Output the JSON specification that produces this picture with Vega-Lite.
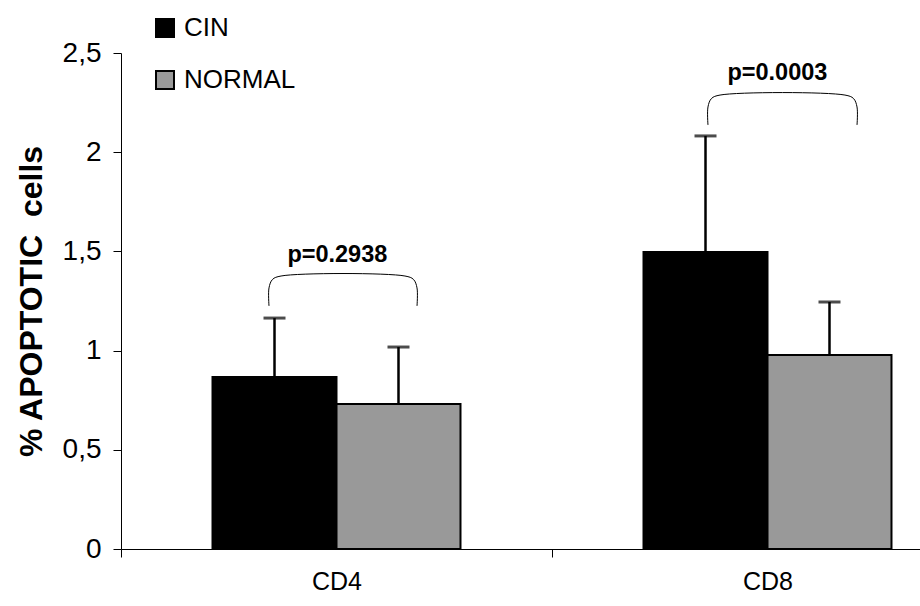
{
  "$schema": "https://vega.github.io/schema/vega-lite/v6.json",
  "autosize": {"type": "none"},
  "padding": {"left": 121, "top": 53, "right": 0, "bottom": 57},
  "width": 799,
  "height": 496,
  "background": "white",
  "config": {
    "font": "Liberation Sans",
    "view": {"stroke": null},
    "axis": {"domainColor": "black", "tickColor": "black", "labelColor": "black", "titleColor": "black", "grid": false, "domainWidth": 1, "tickWidth": 1}
  },
  "layer": [
    {
      "data": {"values": [
        {"cell": "CD4", "group": "CIN", "value": 0.867, "upper": 1.164},
        {"cell": "CD4", "group": "NORMAL", "value": 0.731, "upper": 1.018},
        {"cell": "CD8", "group": "CIN", "value": 1.497, "upper": 2.082},
        {"cell": "CD8", "group": "NORMAL", "value": 0.978, "upper": 1.245}
      ]},
      "encoding": {
        "x": {"field": "cell", "type": "nominal",
          "scale": {"domain": ["CD4", "CD8"], "range": [0, 862], "paddingInner": 0, "paddingOuter": 0},
          "axis": {"title": null, "labelAngle": 0, "labelFontSize": 25, "labelPadding": 12, "tickSize": 8, "tickBand": "extent", "labelBaseline": "top"}},
        "xOffset": {"field": "group", "type": "nominal",
          "scale": {"domain": ["CIN", "NORMAL"], "paddingInner": 0, "paddingOuter": 0.738}}
      },
      "layer": [
        {
          "mark": {"type": "bar", "stroke": "black", "strokeWidth": 2},
          "encoding": {
            "y": {"field": "value", "type": "quantitative",
              "scale": {"domain": [0, 2.5], "nice": false},
              "axis": {"title": "% APOPTOTIC\u00a0 cells", "titleFontSize": 32, "titleFontWeight": "bold", "titlePadding": 14,
                "labelFontSize": 28, "labelPadding": 12, "tickSize": 8, "values": [0, 0.5, 1, 1.5, 2, 2.5],
                "format": ".1~f", "labelExpr": "replace(datum.label, '.', ',')"}},
            "color": {"field": "group", "type": "nominal",
              "scale": {"domain": ["CIN", "NORMAL"], "range": ["#000000", "#999999"]},
              "legend": {"title": null, "orient": "none", "legendX": 31, "legendY": -38, "labelFontSize": 26,
                "symbolType": "square", "symbolSize": 324, "symbolStrokeColor": "black", "symbolStrokeWidth": 2,
                "rowPadding": 26, "labelOffset": 6, "labelColor": "black"}}
          }
        },
        {
          "mark": {"type": "rule", "strokeWidth": 2.5, "color": "black"},
          "encoding": {
            "y": {"field": "value", "type": "quantitative"},
            "y2": {"field": "upper"}
          }
        },
        {
          "mark": {"type": "tick", "color": "black", "thickness": 3, "size": 22, "orient": "horizontal"},
          "encoding": {
            "y": {"field": "upper", "type": "quantitative"}
          }
        }
      ]
    },
    {
      "layer": [
        {
          "data": {"values": [
            {"pair": "CD4", "order": 1, "bx": 0.3434, "by": 1.225},
            {"pair": "CD4", "order": 2, "bx": 0.3434, "by": 1.316},
            {"pair": "CD4", "order": 3, "bx": 0.3515, "by": 1.3586},
            {"pair": "CD4", "order": 4, "bx": 0.3714, "by": 1.376},
            {"pair": "CD4", "order": 5, "bx": 0.6588, "by": 1.376},
            {"pair": "CD4", "order": 6, "bx": 0.6787, "by": 1.3586},
            {"pair": "CD4", "order": 7, "bx": 0.6868, "by": 1.316},
            {"pair": "CD4", "order": 8, "bx": 0.6868, "by": 1.225},
            {"pair": "CD8", "order": 1, "bx": 1.3619, "by": 2.137},
            {"pair": "CD8", "order": 2, "bx": 1.3619, "by": 2.228},
            {"pair": "CD8", "order": 3, "bx": 1.3700, "by": 2.2706},
            {"pair": "CD8", "order": 4, "bx": 1.3899, "by": 2.288},
            {"pair": "CD8", "order": 5, "bx": 1.6797, "by": 2.288},
            {"pair": "CD8", "order": 6, "bx": 1.6996, "by": 2.2706},
            {"pair": "CD8", "order": 7, "bx": 1.7077, "by": 2.228},
            {"pair": "CD8", "order": 8, "bx": 1.7077, "by": 2.137}
          ]},
          "mark": {"type": "line", "interpolate": "catmull-rom", "color": "black", "strokeWidth": 1},
          "encoding": {
            "x": {"field": "bx", "type": "quantitative", "scale": {"domain": [0, 2], "range": [0, 862], "nice": false, "zero": false}, "axis": null},
            "y": {"field": "by", "type": "quantitative", "scale": {"domain": [0, 2.5], "nice": false}},
            "detail": {"field": "pair"},
            "order": {"field": "order"}
          }
        },
        {
          "data": {"values": [
            {"label": "p=0.2938", "tx": 0.502, "ty": 1.447},
            {"label": "p=0.0003", "tx": 1.523, "ty": 2.364}
          ]},
          "mark": {"type": "text", "fontWeight": "bold", "fontSize": 23.5, "align": "center", "baseline": "alphabetic", "color": "black"},
          "encoding": {
            "x": {"field": "tx", "type": "quantitative", "scale": {"domain": [0, 2], "range": [0, 862], "nice": false, "zero": false}, "axis": null},
            "y": {"field": "ty", "type": "quantitative", "scale": {"domain": [0, 2.5], "nice": false}},
            "text": {"field": "label"}
          }
        }
      ]
    }
  ],
  "resolve": {"scale": {"x": "independent"}}
}
